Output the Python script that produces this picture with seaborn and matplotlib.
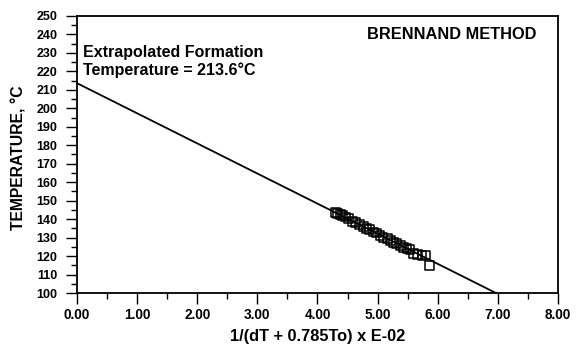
import matplotlib
matplotlib.use("Agg")
import matplotlib.pyplot as plt
import seaborn as sns
import pandas as pd
from matplotlib.ticker import MultipleLocator, FormatStrFormatter

# Data
x_vals = [4.30, 4.34, 4.38, 4.42, 4.47, 4.52, 4.58, 4.63, 4.70, 4.76,
          4.82, 4.87, 4.93, 4.98, 5.04, 5.09, 5.16, 5.21, 5.27, 5.32,
          5.38, 5.43, 5.49, 5.54, 5.60, 5.67, 5.74, 5.80, 5.86]
y_vals = [143.6, 143.2, 142.5, 141.8, 141.2, 140.3, 138.6, 138.4, 137.2, 136.0,
          134.8, 134.6, 133.0, 132.5, 131.2, 130.0, 129.6, 128.4, 127.5, 127.0,
          125.6, 124.8, 124.0, 123.4, 121.5, 121.0, 120.2, 120.6, 114.8]
line_x = [0.0, 6.97]
line_y = [213.6, 100.0]

sns.set_theme(style="white")
plt.rcParams['font.family'] = ['Liberation Sans', 'DejaVu Sans']
plt.rcParams['font.weight'] = 'bold'
plt.rcParams['text.color'] = 'black'
plt.rcParams['axes.labelcolor'] = 'black'
plt.rcParams['xtick.color'] = 'black'
plt.rcParams['ytick.color'] = 'black'

fig = plt.figure(figsize=(5.83, 3.46), dpi=100)
ax = fig.add_axes([0.132, 0.153, 0.825, 0.801])

pts = pd.DataFrame({"x": x_vals, "y": y_vals})
ln = pd.DataFrame({"x": line_x, "y": line_y})

sns.lineplot(data=ln, x="x", y="y", ax=ax, color="black", linewidth=1.3)
sns.scatterplot(data=pts, x="x", y="y", ax=ax, marker="s", s=40,
                facecolor="none", edgecolor="black", linewidth=1.1, zorder=3)

ax.set_xlim(0, 8)
ax.set_ylim(100, 250)
ax.xaxis.set_major_locator(MultipleLocator(1))
ax.xaxis.set_minor_locator(MultipleLocator(0.5))
ax.yaxis.set_major_locator(MultipleLocator(10))
ax.yaxis.set_minor_locator(MultipleLocator(5))
ax.xaxis.set_major_formatter(FormatStrFormatter('%.2f'))

ax.tick_params(axis='both', which='major', direction='out', length=8, width=1,
               color='black', labelcolor='black', bottom=True, left=True)
ax.tick_params(axis='both', which='minor', direction='out', length=4, width=1,
               color='black', bottom=True, left=True)
ax.tick_params(axis='x', labelsize=9.8, pad=3)
ax.tick_params(axis='y', labelsize=9, pad=6)
for lab in ax.get_xticklabels() + ax.get_yticklabels():
    lab.set_fontweight('bold')

for sp in ax.spines.values():
    sp.set_color('black')
    sp.set_linewidth(1.3)
    sp.set_visible(True)

ax.set_xlabel("1/(dT + 0.785To) x E-02", fontsize=11.8, fontweight='bold',
              labelpad=5, color='black')
ax.set_ylabel("TEMPERATURE, °C", fontsize=11.3, fontweight='bold', color='black')
ax.yaxis.set_label_coords(-0.104, 0.49)

ax.text(0.012, 0.895, "Extrapolated Formation\nTemperature = 213.6°C",
        transform=ax.transAxes, fontsize=11.5, fontweight='bold', color='black',
        va='top', ha='left', linespacing=1.2)
ax.text(0.603, 0.96, "BRENNAND METHOD", transform=ax.transAxes,
        fontsize=11.8, fontweight='bold', color='black', va='top', ha='left')

fig.savefig("out.png", dpi=100)
